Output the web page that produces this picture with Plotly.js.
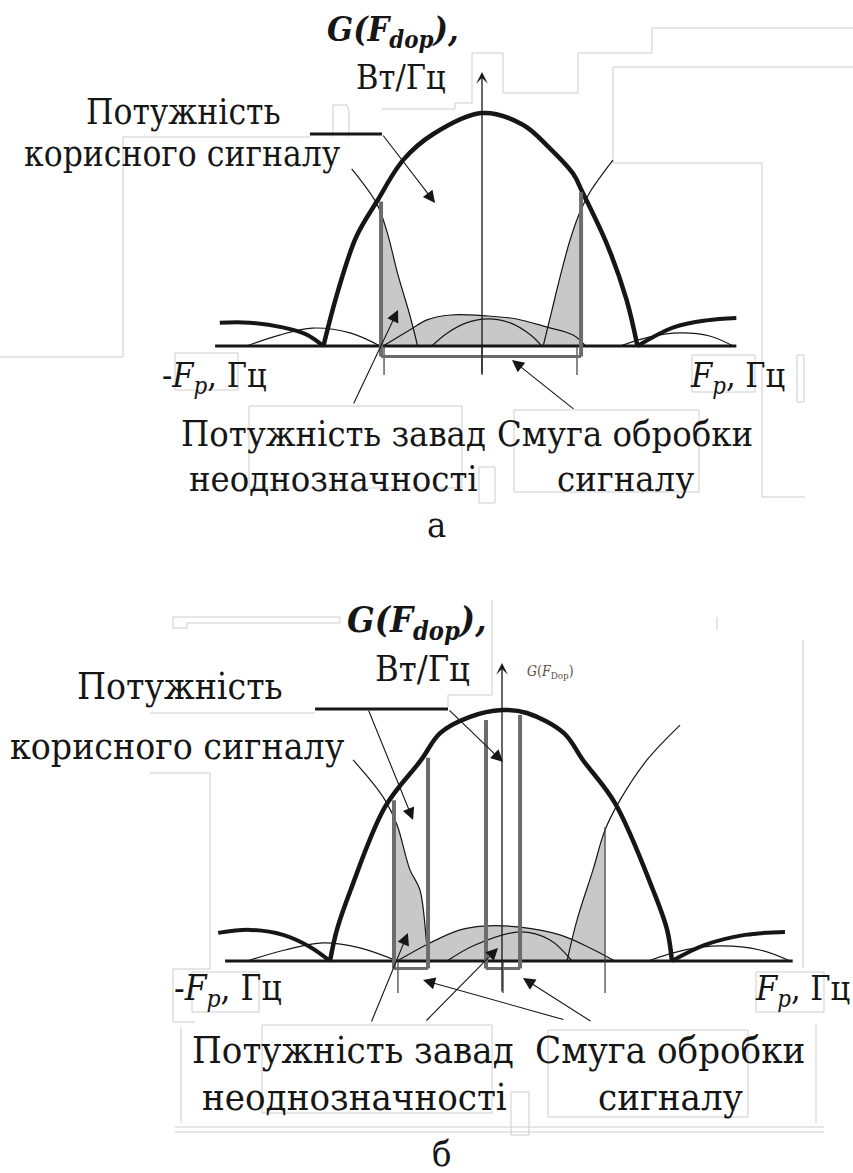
<!DOCTYPE html>
<html>
<head>
<meta charset="utf-8">
<script src="https://cdn.plot.ly/plotly-3.0.1.min.js"></script>
<style>html,body{margin:0;padding:0;background:#fff}#chart{width:853px;height:1173px}</style>
</head>
<body>
<div id="chart"></div>
<script>
// Relative Doppler frequency: main-lobe nulls sit near ±1.
// Relative spectral power density G(F_dop): main-lobe peak = 1.

// ---------- panel а ----------
const aMainF   = [-1.01, -0.92, -0.80, -0.67, -0.50, -0.31, 0, 0.26, 0.43, 0.58, 0.64, 0.80, 0.92, 0.99];
const aMainG   = [0, 0.23, 0.47, 0.62, 0.80, 0.91, 1, 0.95, 0.85, 0.74, 0.66, 0.43, 0.20, 0];
const aSideLF  = [-1.67, -1.48, -1.27, -1.12, -1.01];
const aSideLG  = [0.10, 0.10, 0.08, 0.05, 0];
const aSideRF  = [0.99, 1.22, 1.43, 1.62];
const aSideRG  = [0, 0.08, 0.11, 0.12];
const aThinLF  = [-1.50, -1.29, -1.08, -0.84, -0.65];
const aThinLG  = [0, 0.047, 0.077, 0.056, 0];
const aThinRF  = [0.88, 1.07, 1.26, 1.45, 1.60];
const aThinRG  = [0, 0.039, 0.056, 0.043, 0];
const aAliasLF = [-0.83, -0.67, -0.605, -0.535, -0.46, -0.41];
const aAliasLG = [0.76, 0.61, 0.49, 0.305, 0.133, 0];
const aAliasRF = [0.39, 0.446, 0.497, 0.561, 0.624, 0.688, 0.834];
const aAliasRG = [0, 0.155, 0.296, 0.455, 0.575, 0.661, 0.798];
const aHumpF   = [-0.63, -0.46, -0.35, -0.20, 0.03, 0.22, 0.41, 0.58, 0.66];
const aHumpG   = [0, 0.069, 0.112, 0.133, 0.129, 0.116, 0.082, 0.047, 0];
const aSmallF  = [-0.32, -0.22, -0.10, 0.04, 0.18, 0.31, 0.38];
const aSmallG  = [0, 0.056, 0.099, 0.116, 0.099, 0.047, 0];
// shaded ambiguity power inside the band
const aShadeLF = [-0.643, -0.605, -0.535, -0.46, -0.41];
const aShadeLG = [0.58, 0.49, 0.305, 0.133, 0];
const aShadeRF = [0.39, 0.446, 0.497, 0.561, 0.631];
const aShadeRG = [0, 0.155, 0.296, 0.455, 0.59];
// processing band edges and heights of its side walls
const aBand    = [[-0.643, 0.631]];
const aBandTop = [[0.62, 0.66]];
const aTicks   = [-0.624, 0, 0.605];

// ---------- panel б ----------
const bMainF   = [-1.0, -0.96, -0.88, -0.68, -0.47, -0.36, -0.19, 0, 0.145, 0.36, 0.47, 0.657, 0.878, 0.96, 0.988];
const bMainG   = [0, 0.124, 0.283, 0.614, 0.801, 0.908, 0.972, 1, 0.988, 0.908, 0.801, 0.629, 0.283, 0.124, 0];
const bSideLF  = [-1.65, -1.465, -1.273, -1.116, -1.0];
const bSideLG  = [0.112, 0.124, 0.104, 0.056, 0];
const bSideRF  = [0.988, 1.18, 1.413, 1.645];
const bSideRG  = [0, 0.064, 0.104, 0.116];
const bThinLF  = [-1.483, -1.262, -1.041, -0.826, -0.61];
const bThinLG  = [0, 0.044, 0.072, 0.052, 0];
const bThinRF  = [0.849, 1.064, 1.267, 1.50, 1.674];
const bThinRG  = [0, 0.044, 0.060, 0.044, 0];
const bAliasLF = [-0.866, -0.756, -0.68, -0.61, -0.535, -0.477, -0.436, -0.424];
const bAliasLG = [0.801, 0.713, 0.641, 0.542, 0.363, 0.283, 0.056, 0];
const bAliasRF = [0.378, 0.436, 0.529, 0.599, 0.686, 0.843, 1.035];
const bAliasRG = [0, 0.163, 0.363, 0.522, 0.641, 0.801, 0.940];
const bHumpF   = [-0.61, -0.419, -0.244, -0.11, 0.105, 0.337, 0.512, 0.657];
const bHumpG   = [0, 0.072, 0.124, 0.139, 0.135, 0.104, 0.052, 0];
const bSmallF  = [-0.32, -0.157, 0.105, 0.279, 0.407];
const bSmallG  = [0, 0.064, 0.116, 0.084, 0];
const bShadeLF = [-0.628, -0.61, -0.535, -0.477, -0.436, -0.424];
const bShadeLG = [0.57, 0.542, 0.363, 0.283, 0.056, 0];
const bShadeRF = [0.378, 0.436, 0.529, 0.599];
const bShadeRG = [0, 0.163, 0.363, 0.522];
const bBand    = [[-0.628, -0.430], [-0.093, 0.105]];
const bBandTop = [[0.64, 0.81], [0.96, 0.98]];
const bTicks   = [-0.605, 0.006, 0.599];

// ---------- page geometry (pixel anchor of each panel's origin and pixels per unit) ----------
const W = 853, H = 1173;
const geoA = {ox: 482, oy: 346, sx: 157, sy: 233, top: 0,   bottom: 600};
const geoB = {ox: 502, oy: 961, sx: 172, sy: 251, top: 600, bottom: 1173};

function axisPair(g) {
  return {
    x: {range: [(0 - g.ox) / g.sx, (W - g.ox) / g.sx], domain: [0, 1], visible: false, fixedrange: true},
    y: {range: [(g.oy - g.bottom) / g.sy, (g.oy - g.top) / g.sy], domain: [1 - g.bottom / H, 1 - g.top / H], visible: false, fixedrange: true}
  };
}
const axA = axisPair(geoA), axB = axisPair(geoB);

const INK = '#161616', GREY_FILL = '#c8c8c8', BAND = '#6c6c6c', FRAME = '#cdcdcd';
const SERIF = 'DejaVu Serif Condensed, DejaVu Serif';

function curve(xa, ya, f, g, w) {
  return {type: 'scatter', mode: 'lines', x: f, y: g, xaxis: xa, yaxis: ya, hoverinfo: 'skip',
          line: {shape: 'spline', smoothing: 1, width: w, color: INK}};
}
function shade(xa, ya, f, g) {
  return {type: 'scatter', mode: 'lines', x: f, y: g, xaxis: xa, yaxis: ya, hoverinfo: 'skip',
          fill: 'tozeroy', fillcolor: GREY_FILL, line: {shape: 'spline', smoothing: 1, width: 0, color: GREY_FILL}};
}

const traces = [];
function panelTraces(xa, ya, d) {
  traces.push(shade(xa, ya, d.shadeLF, d.shadeLG));
  traces.push(shade(xa, ya, d.humpF, d.humpG));
  traces.push(shade(xa, ya, d.shadeRF, d.shadeRG));
  traces.push(curve(xa, ya, d.thinLF, d.thinLG, 1.2));
  traces.push(curve(xa, ya, d.thinRF, d.thinRG, 1.2));
  traces.push(curve(xa, ya, d.humpF, d.humpG, 1.2));
  traces.push(curve(xa, ya, d.smallF, d.smallG, 1.2));
  traces.push(curve(xa, ya, d.aliasLF, d.aliasLG, 1.2));
  traces.push(curve(xa, ya, d.aliasRF, d.aliasRG, 1.2));
  traces.push(curve(xa, ya, d.sideLF, d.sideLG, 4));
  traces.push(curve(xa, ya, d.sideRF, d.sideRG, 4));
  traces.push(curve(xa, ya, d.mainF, d.mainG, 4.5));
}
panelTraces('x', 'y', {mainF: aMainF, mainG: aMainG, sideLF: aSideLF, sideLG: aSideLG, sideRF: aSideRF, sideRG: aSideRG,
  thinLF: aThinLF, thinLG: aThinLG, thinRF: aThinRF, thinRG: aThinRG, aliasLF: aAliasLF, aliasLG: aAliasLG,
  aliasRF: aAliasRF, aliasRG: aAliasRG, humpF: aHumpF, humpG: aHumpG, smallF: aSmallF, smallG: aSmallG,
  shadeLF: aShadeLF, shadeLG: aShadeLG, shadeRF: aShadeRF, shadeRG: aShadeRG});
panelTraces('x2', 'y2', {mainF: bMainF, mainG: bMainG, sideLF: bSideLF, sideLG: bSideLG, sideRF: bSideRF, sideRG: bSideRG,
  thinLF: bThinLF, thinLG: bThinLG, thinRF: bThinRF, thinRG: bThinRG, aliasLF: bAliasLF, aliasLG: bAliasLG,
  aliasRF: bAliasRF, aliasRG: bAliasRG, humpF: bHumpF, humpG: bHumpG, smallF: bSmallF, smallG: bSmallG,
  shadeLF: bShadeLF, shadeLG: bShadeLG, shadeRF: bShadeRF, shadeRG: bShadeRG});

// ---------- shapes: baseline, band walls, ticks, label underlines ----------
const shapes = [];
function seg(xr, yr, x0, y0, x1, y1, color, width) {
  shapes.push({type: 'line', xref: xr, yref: yr, x0: x0, y0: y0, x1: x1, y1: y1, line: {color: color, width: width}});
}
function panelShapes(xr, yr, base, bands, tops, ticks, tickLow, bandLow, under) {
  seg(xr, yr, base[0], 0, base[1], 0, INK, 3);
  ticks.forEach(t => seg(xr, yr, t, 0, t, tickLow, '#3a3a3a', 1.2));
  bands.forEach((b, i) => {
    seg(xr, yr, b[0], bandLow, b[1], bandLow, BAND, 3);
    seg(xr, yr, b[0], bandLow, b[0], tops[i][0], BAND, 4);
    seg(xr, yr, b[1], bandLow, b[1], tops[i][1], BAND, 4);
  });
  seg(xr, yr, under[0], under[2], under[1], under[2], INK, 3);
}
panelShapes('x', 'y', [-1.70, 1.62], aBand, aBandTop, aTicks, -0.124, -0.045, [-1.096, -0.637, 0.91]);
panelShapes('x2', 'y2', [-1.61, 1.69], bBand, bBandTop, bTicks, -0.127, -0.030, [-1.087, -0.314, 1.004]);
// thin wall under the right alias lobe of panel б
seg('x2', 'y2', 0.599, 0, 0.599, 0.534, '#3a3a3a', 1.2);

// light frame lines of the caption blocks (page pixels)
function frame(pts) {
  for (let i = 1; i < pts.length; i++) {
    shapes.push({type: 'line', xref: 'paper', yref: 'paper', layer: 'below',
      x0: pts[i - 1][0] / W, y0: 1 - pts[i - 1][1] / H, x1: pts[i][0] / W, y1: 1 - pts[i][1] / H,
      line: {color: FRAME, width: 1}});
  }
}
function box(x0, y0, x1, y1) { frame([[x0, y0], [x1, y0], [x1, y1], [x0, y1], [x0, y0]]); }
frame([[0, 357], [123, 357], [123, 137], [310, 137]]);
frame([[333, 137], [333, 105], [347, 105], [349, 112], [349, 137]]);
frame([[382, 109], [455, 109], [455, 103], [472, 103], [472, 53], [503, 53], [503, 93], [578, 93], [578, 53], [652, 53], [652, 28], [853, 28]]);
frame([[853, 67], [613, 67], [613, 163], [762, 163], [762, 497], [805, 497]]);
box(175, 353, 238, 390);
box(692, 355, 755, 392);
box(797, 355, 804, 402);
box(249, 406, 462, 488);
box(514, 410, 699, 492);
box(479, 467, 495, 503);
frame([[173, 628], [173, 617], [340, 617], [340, 623], [187, 623], [187, 628], [173, 628]]);
frame([[150, 713], [315, 713]]);
frame([[448, 707], [448, 695], [492, 695], [492, 600]]);
frame([[150, 773], [210, 773], [210, 969], [173, 969], [173, 1022], [195, 1022]]);
box(192, 972, 259, 1012);
frame([[717, 617], [717, 630]]);
frame([[803, 640], [803, 968]]);
box(756, 972, 824, 1012);
box(262, 1025, 492, 1113);
box(548, 1030, 748, 1117);
box(511, 1092, 529, 1135);
frame([[181, 1027], [181, 1123]]);
frame([[816, 1025], [816, 1123]]);
frame([[175, 1127], [824, 1127]]);
frame([[175, 1132], [824, 1132]]);

// ---------- annotations ----------
const ann = [];
function arrow(xr, yr, tip, tail, head, size, width) {
  ann.push({xref: xr, yref: yr, axref: xr, ayref: yr, x: tip[0], y: tip[1], ax: tail[0], ay: tail[1],
    text: '', showarrow: true, arrowhead: head || 2, arrowsize: size || 2.2, arrowwidth: width || 1.1,
    arrowcolor: INK, standoff: 0, startstandoff: 0});
}
function label(xr, yr, x, y, text, size, xanchor, color) {
  ann.push({xref: xr, yref: yr, x: x, y: y, text: text, showarrow: false,
    xanchor: xanchor || 'center', yanchor: 'middle', font: {family: SERIF, size: size, color: color || INK}});
}

// panel а
arrow('x', 'y', [0, 1.176], [0, -0.124], 3, 1.5, 1.3);
arrow('x', 'y', [-0.299, 0.614], [-0.637, 0.91]);
arrow('x', 'y', [-0.535, 0.155], [-0.822, -0.253]);
arrow('x', 'y', [0.191, -0.060], [0.592, -0.275]);
label('x', 'y', -0.134, 1.35, '<b><i>G(F<sub>dop</sub>),</i></b>', 34, 'right');
label('x', 'y', -0.217, 1.155, 'Вт/Гц', 34, 'right');
label('x', 'y', -1.268, 1.004, 'Потужність', 35, 'right');
label('x', 'y', -0.885, 0.824, 'корисного сигналу', 35, 'right');
label('x', 'y', -2.051, -0.135, '-<i>F<sub>p</sub></i>, Гц', 34, 'left');
label('x', 'y', 1.312, -0.135, '<i>F<sub>p</sub></i>, Гц', 34, 'left');
label('x', 'y', -0.949, -0.375, 'Потужність завад', 36);
label('x', 'y', -0.949, -0.570, 'неоднозначності', 36);
label('x', 'y', 0.911, -0.375, 'Смуга обробки', 36);
label('x', 'y', 0.911, -0.570, 'сигналу', 36);
label('x', 'y', -0.293, -0.765, 'а', 36);

// panel б
arrow('x2', 'y2', [0, 1.187], [0, -0.127], 3, 1.5, 1.3);
arrow('x2', 'y2', [0.006, 0.793], [-0.314, 1.004]);
arrow('x2', 'y2', [-0.517, 0.562], [-0.779, 1.004]);
arrow('x2', 'y2', [-0.547, 0.112], [-0.762, -0.247]);
arrow('x2', 'y2', [-0.023, 0.052], [-0.448, -0.243]);
arrow('x2', 'y2', [-0.459, -0.076], [0.366, -0.235]);
arrow('x2', 'y2', [0.122, -0.068], [0.523, -0.243]);
label('x2', 'y2', -0.081, 1.351, '<b><i>G(F<sub>dop</sub>),</i></b>', 36, 'right');
label('x2', 'y2', -0.174, 1.167, 'Вт/Гц', 36, 'right');
label('x2', 'y2', 0.134, 1.151, '<i>G</i>(<i>F</i><sub>Dop</sub>)', 14, 'left', '#5e4e3e');
label('x2', 'y2', -1.262, 1.092, 'Потужність', 37, 'right');
label('x2', 'y2', -0.901, 0.853, 'корисного сигналу', 37, 'right');
label('x2', 'y2', -1.919, -0.116, '-<i>F<sub>p</sub></i>, Гц', 35, 'left');
label('x2', 'y2', 1.459, -0.116, '<i>F<sub>p</sub></i>, Гц', 34, 'left');
label('x2', 'y2', -0.866, -0.355, 'Потужність завад', 38);
label('x2', 'y2', -0.860, -0.542, 'неоднозначності', 38);
label('x2', 'y2', 0.977, -0.355, 'Смуга обробки', 38);
label('x2', 'y2', 0.977, -0.542, 'сигналу', 38);
label('x2', 'y2', -0.349, -0.768, 'б', 36);

const layout = {
  width: W, height: H, margin: {l: 0, r: 0, t: 0, b: 0},
  font: {family: SERIF, size: 34, color: INK},
  paper_bgcolor: '#ffffff', plot_bgcolor: 'rgba(0,0,0,0)', showlegend: false,
  xaxis: axA.x, yaxis: axA.y,
  xaxis2: Object.assign({anchor: 'y2'}, axB.x), yaxis2: Object.assign({anchor: 'x2'}, axB.y),
  shapes: shapes, annotations: ann
};
Plotly.newPlot('chart', traces, layout, {staticPlot: true, displayModeBar: false});
</script>
</body>
</html>
